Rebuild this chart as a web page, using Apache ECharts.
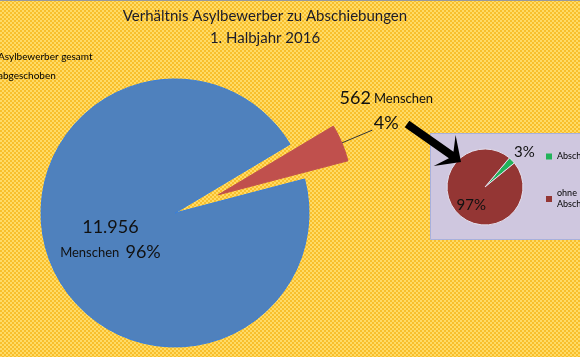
<!DOCTYPE html>
<html>
<head>
<meta charset="utf-8">
<script src="https://cdn.jsdelivr.net/npm/echarts@6/dist/echarts.min.js"></script>
<style>
  html, body { margin: 0; padding: 0; }
  #chart { width: 580px; height: 357px; }
</style>
</head>
<body>
<div id="chart"></div>
<script>
// main pie
const mainNames = ['Asylbewerber gesamt', 'abgeschoben'];
const mainValues = [11956, 562];
const mainColors = ['#4F81BD', '#C0504D'];

// inset pie (share of deportations)
const insetNames = ['Abschiebungen', 'ohne Abschiebungen'];
const insetValues = [3, 97];
const insetColors = ['#22B35A', '#943634'];

const titleLines = ['Verhältnis Asylbewerber zu Abschiebungen', '1. Halbjahr 2016'];

const FONT = 'Lato';

function deNumber(v) {
  return String(v).replace(/\B(?=(\d{3})+(?!\d))/g, '.');
}

// yellow checker background like the excel fill
const tile = document.createElement('canvas');
tile.width = 4;
tile.height = 4;
const tctx = tile.getContext('2d');
tctx.fillStyle = '#F8BF2C';
tctx.fillRect(0, 0, 4, 4);
tctx.fillStyle = '#FFDB66';
tctx.fillRect(0, 0, 2, 2);
tctx.fillRect(2, 2, 2, 2);

// arrow pointing at the inset
const tail = [407, 124], tip = [461, 162];
const len = Math.hypot(tip[0] - tail[0], tip[1] - tail[1]);
const u = [(tip[0] - tail[0]) / len, (tip[1] - tail[1]) / len];
const p = [-u[1], u[0]];
const at = (base, a, b) => [base[0] + a * u[0] + b * p[0], base[1] + a * u[1] + b * p[1]];
const arrowPts = [
  at(tail, 0, 4), at(tip, -12, 4), at(tip, -20, 19), tip,
  at(tip, -20, -19), at(tip, -12, -4), at(tail, 0, -4)
];

const chart = echarts.init(document.getElementById('chart'));

const mainData = mainNames.map((n, i) => {
  const item = {
    name: n,
    value: mainValues[i],
    itemStyle: { color: mainColors[i], borderColor: i === 0 ? '#3A7FD8' : '#C0504D', borderWidth: 1 }
  };
  if (i === 0) {
    item.label = {
      position: 'inside',
      formatter: p => '{num|' + deNumber(p.value) + '}\n{sm|Menschen}  {pct|' + Math.round(p.percent) + '%}'
    };
  } else {
    item.selected = true;
    item.label = {
      position: 'outside',
      distanceToLabelLine: 14,
      padding: [0, 0, 38, 0],
      formatter: p => '{num|' + deNumber(p.value) + '} {sm|Menschen}\n{pct|' + Math.round(p.percent) + '%}'
    };
  }
  return item;
});

const insetData = insetNames.map((n, i) => ({
  name: n,
  value: insetValues[i],
  itemStyle: { color: insetColors[i] },
  label: i === 0
    ? { position: 'outside', distanceToLabelLine: 2 }
    : { position: 'inside' }
}));

const option = {
  backgroundColor: { image: tile, repeat: 'repeat' },
  animation: false,
  textStyle: { fontFamily: FONT },
  title: {
    text: titleLines.join('\n'),
    left: 260,
    top: 0,
    textAlign: 'center',
    textStyle: { fontFamily: FONT, fontSize: 15, fontWeight: 'normal', color: '#1c1c2a', lineHeight: 22 }
  },
  legend: [
    {
      data: mainNames,
      orient: 'vertical',
      left: -13,
      top: 47,
      itemGap: 9,
      itemWidth: 0,
      itemHeight: 0,
      icon: 'rect',
      selectedMode: false,
      textStyle: { fontFamily: FONT, fontSize: 10, color: '#000' }
    },
    {
      data: insetNames.map((n, i) => ({ name: n, itemStyle: { color: insetColors[i], borderWidth: 0 } })),
      orient: 'vertical',
      left: 541,
      top: 146,
      itemGap: 26,
      itemWidth: 6,
      itemHeight: 6,
      icon: 'rect',
      selectedMode: false,
      formatter: n => n.replace('ohne ', 'ohne\n'),
      textStyle: { fontFamily: FONT, fontSize: 9, color: '#000', lineHeight: 11 }
    }
  ],
  graphic: [
    {
      type: 'line', z: 0,
      shape: { x1: 0, y1: 0.5, x2: 580, y2: 0.5 },
      style: { stroke: '#9a9a9a', lineWidth: 1 }
    },
    {
      type: 'rect', z: 0,
      shape: { x: 430.5, y: 133.5, width: 160, height: 106 },
      style: { fill: '#CFC7DF', stroke: '#A7B0DC', lineWidth: 1 }
    },
    {
      type: 'polygon', z: 100,
      shape: { points: arrowPts },
      style: { fill: '#000' }
    }
  ],
  series: [
    {
      name: 'Asylbewerber',
      type: 'pie',
      center: [175, 213],
      radius: 134,
      startAngle: 14.7,
      selectedMode: 'single',
      selectedOffset: 47,
      emphasis: { disabled: true },
      label: {
        color: '#111',
        lineHeight: 25,
        rich: {
          num: { fontFamily: FONT, fontSize: 18, color: '#111', lineHeight: 25 },
          sm: { fontFamily: FONT, fontSize: 13, color: '#111', lineHeight: 25 },
          pct: { fontFamily: FONT, fontSize: 18, color: '#111', lineHeight: 25 }
        }
      },
      labelLine: { show: true, length: 33, length2: 0, lineStyle: { color: '#333', width: 1 } },
      labelLayout: params => (params.dataIndex === 1 ? { align: 'center' } : {}),
      data: mainData
    },
    {
      name: 'Abschiebungen',
      type: 'pie',
      center: [485, 187],
      radius: 38,
      startAngle: 50,
      emphasis: { disabled: true },
      itemStyle: { borderColor: '#E4E0EE', borderWidth: 1 },
      label: {
        formatter: '{d}%',
        fontFamily: FONT,
        fontSize: 15,
        color: '#111'
      },
      labelLine: { show: false, length: 0, length2: 0 },
      labelLayout: params => (params.dataIndex === 0 ? { dy: -8 } : { dx: 2, dy: 3 }),
      data: insetData
    }
  ]
};

chart.setOption(option);
</script>
</body>
</html>
